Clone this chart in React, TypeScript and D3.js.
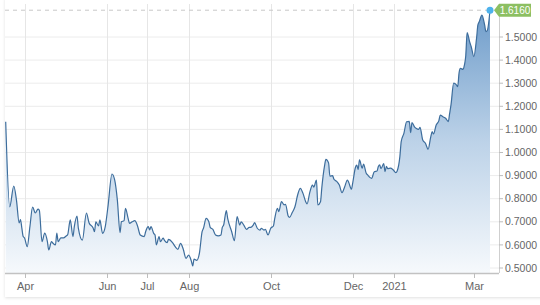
import React from "react";
import * as d3 from "d3";

const dates: string[] = [
  "2020-03-18","2020-03-21","2020-03-24","2020-03-26","2020-03-28","2020-03-29","2020-03-30","2020-03-31",
  "2020-04-01","2020-04-03","2020-04-05","2020-04-07","2020-04-09","2020-04-11","2020-04-12","2020-04-14",
  "2020-04-16","2020-04-18","2020-04-19","2020-04-21","2020-04-22","2020-04-24","2020-04-25","2020-04-26",
  "2020-04-28","2020-04-30","2020-05-02","2020-05-03","2020-05-05","2020-05-07","2020-05-08","2020-05-10",
  "2020-05-11","2020-05-14","2020-05-17","2020-05-19","2020-05-22","2020-05-23","2020-05-24","2020-05-26",
  "2020-05-27","2020-05-29","2020-05-31","2020-06-02","2020-06-05","2020-06-07","2020-06-09","2020-06-11",
  "2020-06-12","2020-06-14","2020-06-15","2020-06-17","2020-06-18","2020-06-20","2020-06-22","2020-06-24",
  "2020-06-26","2020-06-29","2020-06-30","2020-07-02","2020-07-03","2020-07-04","2020-07-06","2020-07-07",
  "2020-07-08","2020-07-10","2020-07-11","2020-07-13","2020-07-14","2020-07-16","2020-07-17","2020-07-20",
  "2020-07-22","2020-07-24","2020-07-26","2020-07-28","2020-07-30","2020-08-01","2020-08-03","2020-08-04",
  "2020-08-05","2020-08-07","2020-08-09","2020-08-11","2020-08-12","2020-08-14","2020-08-16","2020-08-17",
  "2020-08-19","2020-08-21","2020-08-23","2020-08-25","2020-08-26","2020-08-27","2020-08-29","2020-08-30",
  "2020-09-02","2020-09-04","2020-09-06","2020-09-08","2020-09-09","2020-09-11","2020-09-13","2020-09-15",
  "2020-09-16","2020-09-18","2020-09-19","2020-09-21","2020-09-23","2020-09-24","2020-09-26","2020-09-27",
  "2020-09-29","2020-10-01","2020-10-03","2020-10-04","2020-10-06","2020-10-07","2020-10-09","2020-10-11",
  "2020-10-12","2020-10-14","2020-10-15","2020-10-17","2020-10-19","2020-10-21","2020-10-23","2020-10-25",
  "2020-10-27","2020-10-28","2020-10-30","2020-11-01","2020-11-02","2020-11-04","2020-11-05","2020-11-07",
  "2020-11-08","2020-11-10","2020-11-11","2020-11-13","2020-11-14","2020-11-16","2020-11-17","2020-11-19",
  "2020-11-21","2020-11-23","2020-11-25","2020-11-27","2020-11-28","2020-11-30","2020-12-01","2020-12-03",
  "2020-12-04","2020-12-05","2020-12-06","2020-12-08","2020-12-09","2020-12-11","2020-12-12","2020-12-15",
  "2020-12-17","2020-12-19","2020-12-20","2020-12-21","2020-12-22","2020-12-24","2020-12-25","2020-12-26",
  "2020-12-27","2020-12-29","2020-12-31","2021-01-02","2021-01-03","2021-01-05","2021-01-06","2021-01-08",
  "2021-01-10","2021-01-12","2021-01-13","2021-01-14","2021-01-16","2021-01-17","2021-01-19","2021-01-20",
  "2021-01-22","2021-01-24","2021-01-26","2021-01-28","2021-01-29","2021-01-30","2021-02-01","2021-02-03",
  "2021-02-04","2021-02-06","2021-02-08","2021-02-10","2021-02-11","2021-02-12","2021-02-14","2021-02-16",
  "2021-02-17","2021-02-18","2021-02-19","2021-02-21","2021-02-22","2021-02-23","2021-02-24","2021-02-26",
  "2021-02-27","2021-03-01","2021-03-03","2021-03-04","2021-03-05","2021-03-07","2021-03-09","2021-03-10",
  "2021-03-11","2021-03-13"
];

const values: number[] = [
  1.133,0.765,0.855,0.794,0.695,0.71,0.673,0.636,
  0.63,0.592,0.679,0.764,0.738,0.755,0.75,0.614,
  0.651,0.614,0.578,0.614,0.608,0.6,0.651,0.614,
  0.63,0.63,0.639,0.643,0.708,0.636,0.679,0.725,
  0.673,0.621,0.738,0.695,0.673,0.657,0.70,0.682,
  0.708,0.65,0.679,0.765,0.907,0.881,0.794,0.653,
  0.70,0.705,0.758,0.715,0.693,0.70,0.705,0.682,
  0.643,0.636,0.657,0.679,0.665,0.679,0.65,0.643,
  0.60,0.636,0.614,0.629,0.62,0.61,0.624,0.61,
  0.592,0.581,0.607,0.581,0.542,0.556,0.53,0.509,
  0.538,0.533,0.564,0.657,0.672,0.715,0.70,0.676,
  0.667,0.643,0.639,0.643,0.676,0.686,0.748,0.715,
  0.657,0.618,0.722,0.686,0.70,0.686,0.667,0.676,
  0.676,0.686,0.696,0.672,0.664,0.672,0.664,0.667,
  0.643,0.672,0.682,0.715,0.758,0.744,0.787,0.773,
  0.776,0.725,0.719,0.74,0.765,0.816,0.845,0.823,
  0.787,0.777,0.826,0.859,0.85,0.881,0.773,0.787,
  0.849,0.942,0.970,0.955,0.898,0.90,0.884,0.875,
  0.859,0.826,0.852,0.881,0.87,0.841,0.87,0.936,
  0.945,0.927,0.968,0.932,0.95,0.91,0.903,0.888,
  0.917,0.92,0.939,0.946,0.93,0.952,0.917,0.94,
  0.93,0.932,0.925,0.913,0.92,0.982,1.047,1.083,
  1.133,1.135,1.086,1.129,1.11,1.105,1.10,1.109,
  1.054,1.04,1.014,1.069,1.09,1.08,1.119,1.138,
  1.162,1.155,1.148,1.134,1.169,1.206,1.30,1.293,
  1.285,1.345,1.364,1.36,1.379,1.42,1.519,1.476,
  1.459,1.415,1.494,1.552,1.566,1.595,1.552,1.523,
  1.528,1.616
];

const xTickDates: string[] = ["2020-04-01","2020-06-01","2020-07-01","2020-08-01","2020-10-01","2020-12-01","2021-01-01","2021-03-01"];
const xTickLabels: string[] = ["Apr","Jun","Jul","Aug","Oct","Dec","2021","Mar"];
const xGridDates: string[] = ["2020-04-01","2020-06-01","2020-07-01","2020-08-01","2020-10-01","2020-12-01","2021-01-01"];
const yTicks: number[] = [0.5,0.6,0.7,0.8,0.9,1.0,1.1,1.2,1.3,1.4,1.5];
const lastLabel = "1.6160";

const parse = d3.timeParse("%Y-%m-%d");

export default function App() {
  const W = 540, H = 305;
  const data = dates.map((d, i) => ({ date: parse(d) as Date, value: values[i] }));
  const x = d3.scaleTime()
    .domain(d3.extent(data, d => d.date) as [Date, Date])
    .range([5.7, 490]);
  const y = d3.scaleLinear().domain([0.5, 1.5]).range([268, 37]);
  const plotLeft = 5, plotRight = 499, plotBottom = 273;

  const line = d3.line<{ date: Date; value: number }>()
    .x(d => x(d.date)).y(d => y(d.value)).curve(d3.curveMonotoneX);
  const area = d3.area<{ date: Date; value: number }>()
    .x(d => x(d.date)).y0(plotBottom).y1(d => y(d.value)).curve(d3.curveMonotoneX);

  const last = data[data.length - 1];
  const lx = x(last.date), ly = y(last.value);
  const font = "'Liberation Sans', Arial, Helvetica, sans-serif";

  return (
    <svg width={W} height={H} style={{ position: "absolute", left: 0, top: 0, background: "#fff" }}>
      <defs>
        <linearGradient id="fillGrad" gradientUnits="userSpaceOnUse" x1="0" y1={10} x2="0" y2={plotBottom}>
          <stop offset="0" stopColor="#6e9cca" />
          <stop offset="0.5" stopColor="#bcd2e8" />
          <stop offset="1" stopColor="#f6f9fc" />
        </linearGradient>
        <filter id="shadow" x="-5%" y="-5%" width="110%" height="110%">
          <feDropShadow dx="0" dy="1" stdDeviation="1.5" floodColor="#000" floodOpacity="0.12" />
        </filter>
      </defs>
      <rect x={5} y={-2} width={545} height={299} fill="#fff" filter="url(#shadow)" />
      {/* horizontal grid */}
      {yTicks.map(t => (
        <line key={"hg" + t} x1={plotLeft} x2={plotRight} y1={y(t)} y2={y(t)} stroke="#ececec" strokeWidth={1} />
      ))}
      {/* vertical grid */}
      {xGridDates.map(d => {
        const px = Math.round(x(parse(d) as Date)) + 0.5;
        return <line key={"vg" + d} x1={px} x2={px} y1={4} y2={plotBottom} stroke="#e6e6e6" strokeWidth={1} />;
      })}
      {/* last value dashed line */}
      <line x1={plotLeft} x2={lx} y1={ly} y2={ly} stroke="#c8c8c8" strokeWidth={1} strokeDasharray="4,4" />
      <path d={area(data) || ""} fill="url(#fillGrad)" />
      <path d={line(data) || ""} fill="none" stroke="#3d6d9c" strokeWidth={1.2} />
      {/* right axis */}
      <line x1={plotRight + 0.5} x2={plotRight + 0.5} y1={4} y2={plotBottom} stroke="#cfcfcf" strokeWidth={1} />
      {yTicks.map(t => (
        <g key={"yt" + t}>
          <line x1={plotRight} x2={plotRight + 4} y1={y(t)} y2={y(t)} stroke="#bdbdbd" />
          <text x={plotRight + 6} y={y(t)} dy="0.35em" fontSize={10.5} fill="#666" fontFamily={font}>{t.toFixed(4)}</text>
        </g>
      ))}
      {/* x axis */}
      <line x1={plotLeft} x2={plotRight} y1={plotBottom + 0.5} y2={plotBottom + 0.5} stroke="#c2c2c2" strokeWidth={1.5} />
      {xTickDates.map((d, i) => {
        const px = Math.round(x(parse(d) as Date)) + 0.5;
        return (
          <g key={"xt" + d}>
            <line x1={px} x2={px} y1={plotBottom} y2={plotBottom + 5} stroke="#bdbdbd" />
            <text x={px} y={290} textAnchor="middle" fontSize={11} fill="#666" fontFamily={font}>{xTickLabels[i]}</text>
          </g>
        );
      })}
      {/* last value marker + label */}
      <path d={`M${lx + 4},${ly} L${lx + 9},${ly - 6.5} L${lx + 41},${ly - 6.5} L${lx + 41},${ly + 6.5} L${lx + 9},${ly + 6.5} Z`} fill="#8cbf62" />
      <text x={lx + 25} y={ly} dy="0.35em" textAnchor="middle" fontSize={10} fill="#fff" fontFamily={font}>{lastLabel}</text>
      <circle cx={lx} cy={ly} r={3.5} fill="#4db2ec" />
    </svg>
  );
}
